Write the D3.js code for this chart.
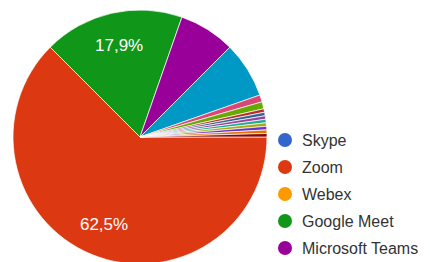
<!DOCTYPE html>
<html>
<head>
<meta charset="utf-8">
<script src="https://cdn.jsdelivr.net/npm/d3@7"></script>
<style>
  html, body { margin: 0; padding: 0; background: #fff; }
  svg { display: block; font-family: "Liberation Sans", Arial, sans-serif; }
</style>
</head>
<body>
<div id="chart"></div>
<script>
// Answer categories (only the first five fit in the legend)
const categories = ['Skype', 'Zoom', 'Webex', 'Google Meet', 'Microsoft Teams',
    'WhatsApp', 'Jitsi', 'Discord', 'Hangouts', 'Moodle', 'Classroom',
    'Facebook', 'Instagram', 'Telegram', 'Outro', 'Nenhum'];
// Response counts (112 total)
const counts = [0, 70, 0, 20, 8, 8, 1, 1, 0.5, 0.5, 0.5, 0.5, 0.5, 0.5, 0.5, 0.5];
const colors = ['#3366cc', '#dc3912', '#ff9900', '#109618', '#990099', '#0099c6',
    '#dd4477', '#66aa00', '#b82e2e', '#316395', '#994499', '#22aa99',
    '#aaaa11', '#6633cc', '#e67300', '#8b0707'];
const legendCount = 5;

const width = 430;
const height = 262;
const cx = 140, cy = 137, radius = 127;

const data = categories.map((c, i) => ({ key: c, value: counts[i], color: colors[i] }));
const total = d3.sum(counts);

const svg = d3.select('#chart').append('svg')
    .attr('width', width)
    .attr('height', height);

// Google-forms style: first slice starts at 3 o'clock, clockwise
const pie = d3.pie()
    .sort(null)
    .value(d => d.value)
    .startAngle(Math.PI / 2)
    .endAngle(Math.PI / 2 + 2 * Math.PI);

const arc = d3.arc().innerRadius(0).outerRadius(radius);
const labelArc = d3.arc().innerRadius(radius * 0.74).outerRadius(radius * 0.74);

const g = svg.append('g')
    .attr('transform', 'translate(' + cx + ',' + cy + ')');

const arcs = pie(data).filter(d => d.data.value > 0);

g.selectAll('path')
    .data(arcs)
    .enter()
    .append('path')
    .attr('d', arc)
    .attr('fill', d => d.data.color)
    .attr('stroke', '#fff')
    .attr('stroke-width', 0.7);

// Percent labels only on slices big enough to hold them
const fmt = v => (v * 100).toFixed(1).replace('.', ',') + '%';
g.selectAll('.label')
    .data(arcs.filter(d => d.data.value / total > 0.1))
    .enter()
    .append('text')
    .attr('class', 'label')
    .attr('transform', d => 'translate(' + labelArc.centroid(d) + ')')
    .attr('text-anchor', 'middle')
    .attr('dy', '0.35em')
    .attr('fill', '#fff')
    .style('font-size', '17px')
    .text(d => fmt(d.data.value / total));

// Legend
const legendY = d3.scalePoint()
    .domain(categories.slice(0, legendCount))
    .range([140, 248]);

const legend = svg.selectAll('.legend')
    .data(data.slice(0, legendCount))
    .enter()
    .append('g')
    .attr('class', 'legend')
    .attr('transform', d => 'translate(285,' + legendY(d.key) + ')');

legend.append('circle')
    .attr('r', 7)
    .attr('fill', d => d.color);

legend.append('text')
    .attr('x', 17)
    .attr('dy', '0.35em')
    .attr('fill', '#333')
    .style('font-size', '16px')
    .text(d => d.key);
</script>
</body>
</html>
